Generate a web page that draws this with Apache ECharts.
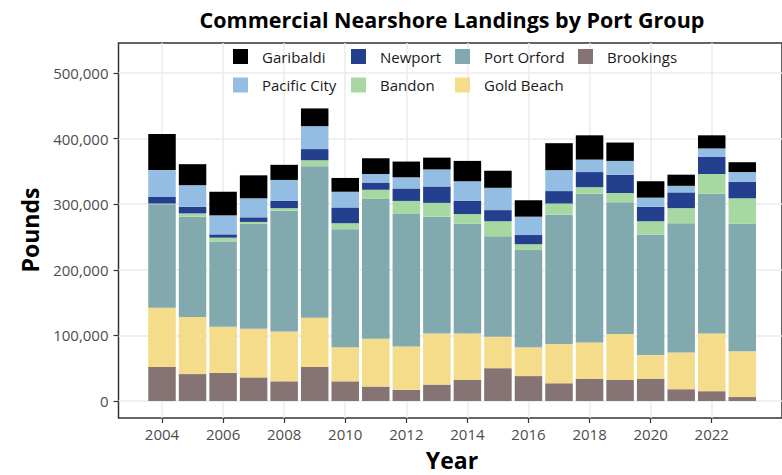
<!DOCTYPE html>
<html>
<head>
<meta charset="utf-8">
<script src="https://cdn.jsdelivr.net/npm/echarts@6/dist/echarts.min.js"></script>
<style>
  html, body { margin: 0; padding: 0; background: #fff; }
  #chart { width: 782px; height: 475px; }
</style>
</head>
<body>
<div id="chart"></div>
<script>
// landings in pounds
const years = ["2004", "2005", "2006", "2007", "2008", "2009", "2010", "2011", "2012", "2013",
               "2014", "2015", "2016", "2017", "2018", "2019", "2020", "2021", "2022", "2023"];
const brookings   = [52000, 41000, 43000, 36000, 30000, 52000, 30000, 22000, 17000, 25000,
                     32000, 50000, 38000, 27000, 34000, 32000, 34000, 18000, 15000, 6000];
const goldBeach   = [90000, 87000, 70000, 74000, 76000, 75000, 52000, 73000, 66000, 78000,
                     71000, 48000, 44000, 60000, 55000, 70000, 36000, 56000, 88000, 70000];
const portOrford  = [158000, 153000, 130000, 160000, 184000, 231000, 180000, 213000, 202000, 178000,
                     167000, 153000, 148000, 197000, 227000, 201000, 184000, 197000, 213000, 194000];
const bandon      = [1000, 5000, 6000, 3000, 4000, 9000, 9000, 14000, 20000, 21000,
                     15000, 23000, 9000, 17000, 10000, 14000, 20000, 23000, 30000, 39000];
const newport     = [10000, 10000, 5000, 7000, 11000, 17000, 24000, 11000, 19000, 25000,
                     20000, 17000, 14000, 19000, 23000, 28000, 22000, 24000, 26000, 25000];
const pacificCity = [41000, 33000, 29000, 29000, 32000, 35000, 24000, 13000, 17000, 26000,
                     30000, 34000, 28000, 32000, 19000, 21000, 14000, 10000, 13000, 15000];
const garibaldi   = [55000, 32000, 36000, 35000, 23000, 27000, 21000, 24000, 24000, 18000,
                     31000, 26000, 25000, 41000, 37000, 28000, 25000, 17000, 20000, 15000];

// x tick labels (every other year)
const tickYears = ["2004", "2006", "2008", "2010", "2012", "2014", "2016", "2018", "2020", "2022"];
const axisYears = ["2002", "2003", "2004", "2005", "2006", "2007", "2008", "2009", "2010", "2011", "2012",
                   "2013", "2014", "2015", "2016", "2017", "2018", "2019", "2020", "2021", "2022", "2023", "2024"];

const FONT = '"Open Sans", "Noto Sans", sans-serif';

// bottom of stack first
const stackOrder = [
  { name: "Brookings", data: brookings, color: "#857473" },
  { name: "Gold Beach", data: goldBeach, color: "#F5DC8B" },
  { name: "Port Orford", data: portOrford, color: "#82A9AD" },
  { name: "Bandon", data: bandon, color: "#A8D8A2" },
  { name: "Newport", data: newport, color: "#253F8F" },
  { name: "Pacific City", data: pacificCity, color: "#93BDE2" },
  { name: "Garibaldi", data: garibaldi, color: "#000000" }
];

const chart = echarts.init(document.getElementById("chart"), null, { renderer: "svg" });

const isTick = (idx, val) => tickYears.indexOf(val) >= 0;

function legendCol(names, left) {
  return {
    data: names,
    orient: "vertical",
    left: left,
    top: 49,
    padding: 0,
    itemWidth: 15,
    itemHeight: 15,
    itemGap: 13.5,
    icon: "rect",
    selectedMode: false,
    textStyle: { fontSize: 15, color: "#1a1a1a", fontFamily: FONT, padding: [0, 0, 0, 9] }
  };
}

chart.setOption({
  animation: false,
  backgroundColor: "#ffffff",
  grid: [
    // panel border
    { left: 118.5, right: -4.5, top: 43, bottom: 57, show: true, borderColor: "#333333", borderWidth: 1.5, backgroundColor: "transparent" },
    // bars
    { left: 146.73, right: 24.47, top: 73, bottom: 74 },
    // x ticks / vertical grid
    { left: 100.92, right: 9.2, top: 43, bottom: 57 },
    // y axis / horizontal grid
    { left: 118.5, right: -4.5, top: 73, bottom: 74 }
  ],
  xAxis: [
    { gridIndex: 0, type: "value", show: false },
    { gridIndex: 1, type: "category", data: years, show: false },
    {
      gridIndex: 2,
      type: "category",
      data: axisYears,
      boundaryGap: false,
      axisLine: { show: false },
      axisTick: { show: true, interval: isTick, length: 5, lineStyle: { color: "#333333", width: 1.2 } },
      axisLabel: { interval: isTick, color: "#4d4d4d", fontSize: 15, fontFamily: FONT, margin: 8 },
      splitLine: { show: true, interval: isTick, lineStyle: { color: "#ebebeb", width: 1.5 } }
    },
    { gridIndex: 3, type: "value", show: false }
  ],
  yAxis: [
    { gridIndex: 0, type: "value", show: false },
    { gridIndex: 1, type: "value", min: 0, max: 500000, show: false },
    { gridIndex: 2, type: "value", show: false },
    {
      gridIndex: 3,
      type: "value",
      min: 0,
      max: 500000,
      interval: 100000,
      axisLine: { show: false },
      axisTick: { show: true, length: 5, lineStyle: { color: "#333333", width: 1.2 } },
      axisLabel: {
        color: "#4d4d4d",
        fontSize: 15,
        fontFamily: FONT,
        margin: 10,
        formatter: v => v.toLocaleString("en-US")
      },
      splitLine: { show: true, lineStyle: { color: "#ebebeb", width: 1.5 } }
    }
  ],
  legend: [
    legendCol(["Garibaldi", "Pacific City"], 233),
    legendCol(["Newport", "Bandon"], 351),
    legendCol(["Port Orford", "Gold Beach"], 455),
    legendCol(["Brookings"], 578)
  ],
  graphic: [
    {
      type: "text", x: 452, y: 19,
      style: { text: "Commercial Nearshore Landings by Port Group", font: 'bold 21.5px ' + FONT, fill: "#000", textAlign: "center", textVerticalAlign: "middle" }
    },
    {
      type: "text", x: 452, y: 460,
      style: { text: "Year", font: 'bold 23px ' + FONT, fill: "#000", textAlign: "center", textVerticalAlign: "middle" }
    },
    {
      type: "text", x: 30, y: 230, rotation: Math.PI / 2,
      style: { text: "Pounds", font: 'bold 23px ' + FONT, fill: "#000", textAlign: "center", textVerticalAlign: "middle" }
    }
  ],
  series: stackOrder.map(s => ({
    name: s.name,
    type: "bar",
    xAxisIndex: 1,
    yAxisIndex: 1,
    stack: "ports",
    barWidth: 27.5,
    itemStyle: { color: s.color },
    data: s.data
  }))
});
</script>
</body>
</html>
